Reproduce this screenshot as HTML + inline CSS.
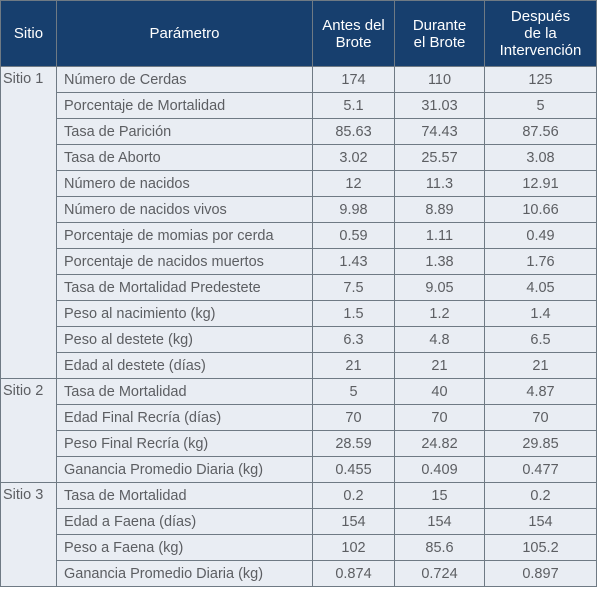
<!DOCTYPE html>
<html><head><meta charset="utf-8"><style>
html,body{margin:0;padding:0;background:#fff;width:600px;height:590px;overflow:hidden}
table{position:absolute;left:0;top:0;border-collapse:collapse;table-layout:fixed;width:596px;font-family:"Liberation Sans",sans-serif;font-size:14.5px;color:#5c5e62}
td,th{border:1.5px solid #6f7a84;padding:0;height:25px;background:#e9edf3;white-space:nowrap;overflow:hidden}
th{background:#173f6e;color:#fff;font-weight:normal;height:65px;line-height:17px;font-size:15px}
td.n{text-align:center}
td.p{padding-left:7px}
td.s{vertical-align:top;padding-left:2px;padding-top:4px}
</style></head><body>
<table>
<colgroup><col style="width:56px"><col style="width:256px"><col style="width:82px"><col style="width:90px"><col style="width:112px"></colgroup>
<tr><th>Sitio</th><th>Parámetro</th><th>Antes del<br>Brote</th><th>Durante<br>el Brote</th><th>Después<br>de la<br>Intervención</th></tr>
<tr><td class="s" rowspan="12">Sitio 1</td><td class="p">Número de Cerdas</td><td class="n">174</td><td class="n">110</td><td class="n">125</td></tr>
<tr><td class="p">Porcentaje de Mortalidad</td><td class="n">5.1</td><td class="n">31.03</td><td class="n">5</td></tr>
<tr><td class="p">Tasa de Parición</td><td class="n">85.63</td><td class="n">74.43</td><td class="n">87.56</td></tr>
<tr><td class="p">Tasa de Aborto</td><td class="n">3.02</td><td class="n">25.57</td><td class="n">3.08</td></tr>
<tr><td class="p">Número de nacidos</td><td class="n">12</td><td class="n">11.3</td><td class="n">12.91</td></tr>
<tr><td class="p">Número de nacidos vivos</td><td class="n">9.98</td><td class="n">8.89</td><td class="n">10.66</td></tr>
<tr><td class="p">Porcentaje de momias por cerda</td><td class="n">0.59</td><td class="n">1.11</td><td class="n">0.49</td></tr>
<tr><td class="p">Porcentaje de nacidos muertos</td><td class="n">1.43</td><td class="n">1.38</td><td class="n">1.76</td></tr>
<tr><td class="p">Tasa de Mortalidad Predestete</td><td class="n">7.5</td><td class="n">9.05</td><td class="n">4.05</td></tr>
<tr><td class="p">Peso al nacimiento (kg)</td><td class="n">1.5</td><td class="n">1.2</td><td class="n">1.4</td></tr>
<tr><td class="p">Peso al destete (kg)</td><td class="n">6.3</td><td class="n">4.8</td><td class="n">6.5</td></tr>
<tr><td class="p">Edad al destete (días)</td><td class="n">21</td><td class="n">21</td><td class="n">21</td></tr>
<tr><td class="s" rowspan="4">Sitio 2</td><td class="p">Tasa de Mortalidad</td><td class="n">5</td><td class="n">40</td><td class="n">4.87</td></tr>
<tr><td class="p">Edad Final Recría (días)</td><td class="n">70</td><td class="n">70</td><td class="n">70</td></tr>
<tr><td class="p">Peso Final Recría (kg)</td><td class="n">28.59</td><td class="n">24.82</td><td class="n">29.85</td></tr>
<tr><td class="p">Ganancia Promedio Diaria (kg)</td><td class="n">0.455</td><td class="n">0.409</td><td class="n">0.477</td></tr>
<tr><td class="s" rowspan="4">Sitio 3</td><td class="p">Tasa de Mortalidad</td><td class="n">0.2</td><td class="n">15</td><td class="n">0.2</td></tr>
<tr><td class="p">Edad a Faena (días)</td><td class="n">154</td><td class="n">154</td><td class="n">154</td></tr>
<tr><td class="p">Peso a Faena (kg)</td><td class="n">102</td><td class="n">85.6</td><td class="n">105.2</td></tr>
<tr><td class="p">Ganancia Promedio Diaria (kg)</td><td class="n">0.874</td><td class="n">0.724</td><td class="n">0.897</td></tr>
</table>
</body></html>
